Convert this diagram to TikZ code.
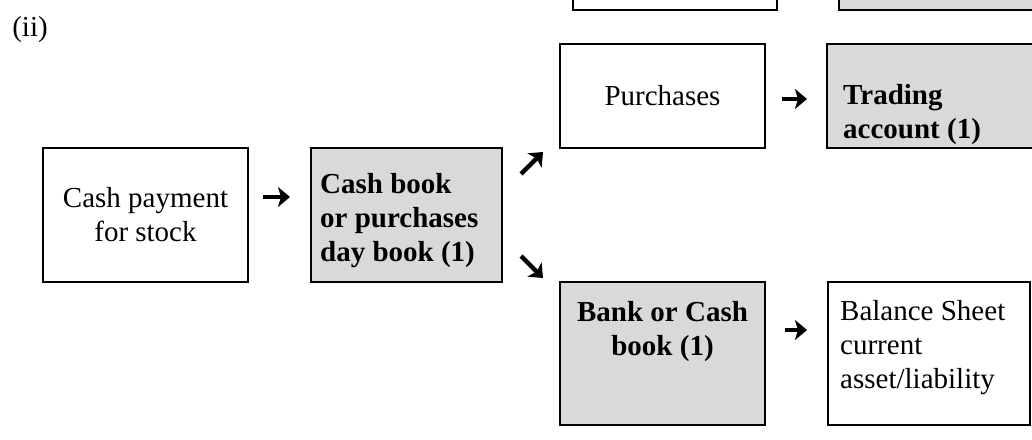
\documentclass[tikz,border=0pt]{standalone}
\usepackage{fontspec}
\setmainfont{Liberation Serif}
\usetikzlibrary{arrows.meta}
\definecolor{boxgray}{RGB}{217,217,217}

\begin{document}
\begin{tikzpicture}[x=1pt,y=-1pt,
    box/.style={draw, line width=2pt, inner sep=0pt, align=center, font=\fontsize{29}{34}\selectfont},
    shaded/.style={box, fill=boxgray, font=\fontsize{29}{34}\selectfont\bfseries},
    txt/.style={inner sep=0pt, align=left, font=\fontsize{29}{34}\selectfont},
    boldtxt/.style={txt, font=\fontsize{29}{34}\selectfont\bfseries},
    pointer/.style={-{Stealth[length=12pt, width=20pt, inset=3pt]}, line width=4.5pt}]
    \useasboundingbox (0,0) rectangle (1032,439);
    \clip (0,0) rectangle (1032,439);

    % Part label
    \node[txt] (part) at (30,30) {(ii)};

    % Boxes cut off at the top edge
    \node[box, minimum width=204, minimum height=100] (topleft) at (675,-40) {};
    \node[shaded, minimum width=200, minimum height=100] (topright) at (939,-40) {};

    % Source document and book of prime entry
    \node[box, minimum width=205, minimum height=134] (cashpay) at (145.5,215) {Cash payment\\for stock};
    \node[shaded, minimum width=191, minimum height=134] (cashbook) at (406.5,215) {};
    \node[boldtxt, anchor=west] (cashbooktext) at (320,221) {Cash book\\or purchases\\day book (1)};

    % Upper branch
    \node[box, minimum width=205, minimum height=104] (purch) at (662.5,96) {Purchases};
    \node[shaded, minimum width=209, minimum height=104] (trading) at (931.5,96) {};
    \node[boldtxt, anchor=west] (tradingtext) at (843,115) {Trading\\account (1)};

    % Lower branch
    \node[shaded, minimum width=205, minimum height=143] (bank) at (662.5,353.5) {};
    \node[boldtxt, align=center] (banktext) at (662.5,332) {Bank or Cash\\book (1)};
    \node[box, minimum width=202, minimum height=143] (balance) at (929,353.5) {};
    \node[txt, anchor=west] (balancetext) at (840,348) {Balance Sheet\\current\\asset/liability};

    % Arrows
    \draw[pointer, shorten <=14pt, shorten >=20pt] ([yshift=18]cashpay.east) -- ([yshift=18]cashbook.west);
    \draw[pointer] ([shift={(18,27)}]cashbook.north east) -- ([shift={(40,5)}]cashbook.north east);
    \draw[pointer] ([shift={(18,-27)}]cashbook.south east) -- ([shift={(40,-5)}]cashbook.south east);
    \draw[pointer, shorten <=16pt, shorten >=19pt] ([yshift=-3]purch.east) -- ([yshift=-3]trading.west);
    \draw[pointer, shorten <=19pt, shorten >=20pt] ([yshift=23.5]bank.east) -- ([yshift=23.5]balance.west);
\end{tikzpicture}
\end{document}
